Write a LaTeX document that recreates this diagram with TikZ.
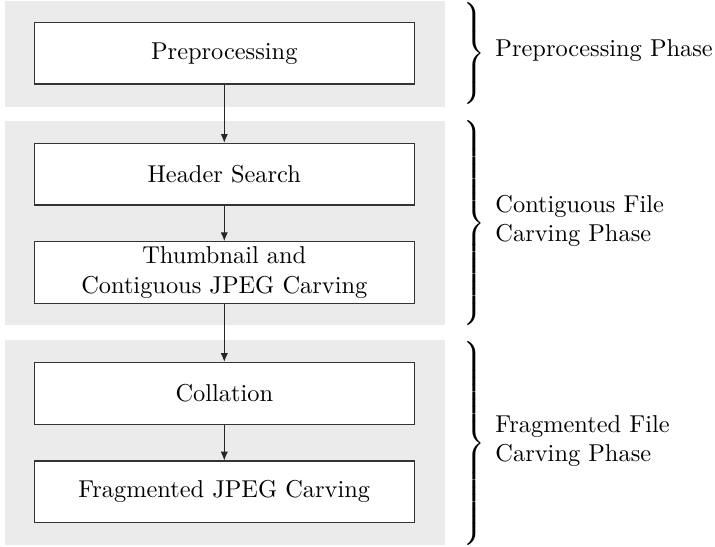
\documentclass[tikz,border=0pt]{standalone}
\usetikzlibrary{arrows.meta}
\definecolor{panelgray}{RGB}{235,235,235}
\newcommand{\mybrace}[1]{$\delimiterfactor=1000\delimitershortfall=0pt\nulldelimiterspace=0pt\left.\vcenter{\hbox{\rule{0pt}{#1}}}\right\}$}
\begin{document}
\begin{tikzpicture}[x=0.41pt,y=-0.41pt,
  panel/.style={fill=panelgray,draw=none},
  stepbox/.style={draw=black!80,line width=0.45pt,fill=white,minimum width=155.8pt,minimum height=25.3pt,inner sep=2pt,align=center,font=\normalsize},
  flow/.style={draw=black!85,line width=0.45pt,-{Latex[length=3.6pt,width=3pt]}},
  bracenode/.style={inner sep=0pt,anchor=west},
  phase/.style={anchor=west,align=left,inner sep=0pt}]
\useasboundingbox (0,0) rectangle (715,547);
\fill[panel] (5,1) rectangle (445,107);
\fill[panel] (5,121) rectangle (445,325.5);
\fill[panel] (5,340) rectangle (445,545);
\node[stepbox] (pre) at (224.3,53.2) {Preprocessing};
\node[stepbox] (hs) at (224.3,174.2) {Header Search};
\node[stepbox] (tc) at (224.3,272.5) {Thumbnail and\\Contiguous JPEG Carving};
\node[stepbox] (col) at (224.3,393.3) {Collation};
\node[stepbox] (fj) at (224.3,491.9) {Fragmented JPEG Carving};
\draw[flow] (pre) -- (hs);
\draw[flow] (hs) -- (tc);
\draw[flow] (tc) -- (col);
\draw[flow] (col) -- (fj);
\node[bracenode] (b1) at (463,53.5) {\mybrace{38pt}};
\node[bracenode] (b2) at (463,223) {\mybrace{80pt}};
\node[bracenode] (b3) at (463,443.5) {\mybrace{81pt}};
\node[phase] (l1) at (495,51) {Preprocessing Phase};
\node[phase] (l2) at (495,221) {Contiguous File\\Carving Phase};
\node[phase] (l3) at (495,441) {Fragmented File\\Carving Phase};
\end{tikzpicture}
\end{document}
